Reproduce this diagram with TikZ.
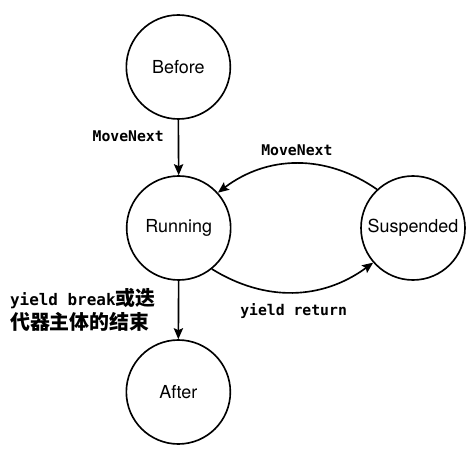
\documentclass[tikz,border=0pt]{standalone}
\usepackage{fontspec}
\setmainfont{TeX Gyre Heros}
\setmonofont{DejaVu Sans Mono}
\newfontfamily\cjkfont{Noto Sans CJK SC}
\usetikzlibrary{arrows.meta, positioning}

\begin{document}
\begin{tikzpicture}[
    >={Stealth[length=3.3mm, width=2.8mm, inset=0.6mm]},
    state/.style ={draw, circle, line width=1.4pt, minimum size=3.12cm,
                   inner sep=0pt, font=\fontsize{15.3}{18}\selectfont},
    flow/.style  ={->, line width=1.4pt},
    lbl/.style   ={font=\fontsize{12.6}{15}\selectfont\ttfamily\bfseries}
]
\useasboundingbox (0,0) rectangle (14.07,13.8);

% =================== States ===================
\node[state] (before) at (5.35,11.79) {Before};
\node[state] (running) at (5.36,6.96) {Running};
\node[state] (suspended) at (12.39,6.96) {Suspended};
\node[state] (after) at (5.35,2.04) {After};

% --- Arrows ---

% Before -> Running
\draw[flow] (before.south) -- (running.north)
    node[pos=0.3, left=3mm, lbl] {MoveNext};

% Suspended -> Running (over the top)
\draw[flow] (suspended.133) to[bend right=36]
    node[midway, above=1mm, lbl] {MoveNext} (running.42);

% Running -> Suspended (underneath)
\draw[flow] (running.-51) to[bend right=34]
    node[midway, below=2mm, lbl] {yield return} (suspended.221);

% Running -> After
\draw[flow] (running.south) -- (after.north)
    node[midway, left=5.5mm, align=left, lbl,
         font=\fontsize{13.6}{20}\selectfont\ttfamily\bfseries]
    {yield break{\cjkfont\fontsize{17}{20}\selectfont 或迭}\\
     {\cjkfont\fontsize{17}{20}\selectfont 代器主体的结束}};

\end{tikzpicture}
\end{document}
